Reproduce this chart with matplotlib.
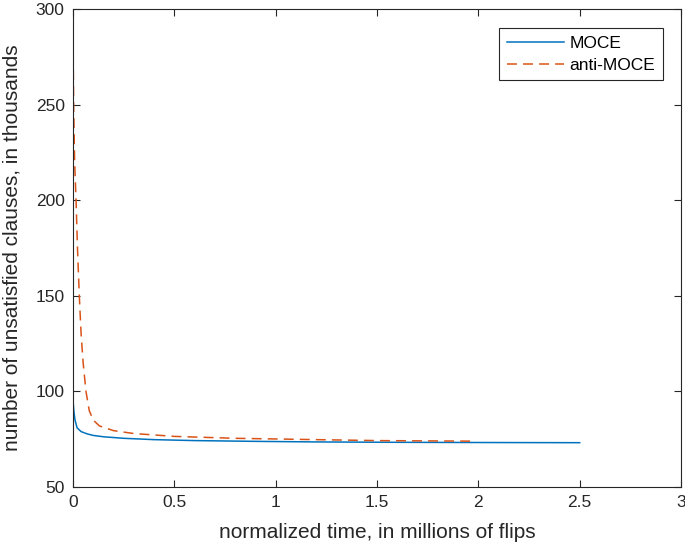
import numpy as np
import matplotlib
matplotlib.use("Agg")
import matplotlib.pyplot as plt

plt.rcParams['font.family'] = ['Liberation Sans', 'DejaVu Sans']

# MOCE curve (x in millions of flips, y in thousands of clauses)
moce_x = [0, 0.005, 0.01, 0.02, 0.04, 0.07, 0.1, 0.15, 0.25, 0.4, 0.6, 0.9, 1.2, 1.6, 2.0, 2.5]
moce_y = [95, 89, 85, 81, 79, 77.8, 77, 76.3, 75.5, 74.8, 74.3, 73.9, 73.6, 73.4, 73.3, 73.2]

# anti-MOCE curve
anti_x = [0, 0.003, 0.008, 0.015, 0.022, 0.031, 0.04, 0.05, 0.064, 0.08, 0.1, 0.13, 0.2, 0.3, 0.5, 0.8, 1.2, 1.5, 1.98]
anti_y = [285, 250, 220, 200, 175, 150, 130, 115, 100, 90, 85, 82, 79.5, 78, 76.5, 75.5, 74.8, 74.3, 74.0]

xticks = [0, 0.5, 1, 1.5, 2, 2.5, 3]
xticklabels = ['0', '0.5', '1', '1.5', '2', '2.5', '3']
yticks = [50, 100, 150, 200, 250, 300]

fig = plt.figure(figsize=(6.85, 5.46), dpi=100)
ax = fig.add_axes([0.1066, 0.108, 0.8876, 0.875])

ax.plot(moce_x, moce_y, color='#0072BD', lw=1.1, label='MOCE')
ax.plot(anti_x, anti_y, color='#D95319', lw=1.1, ls=(0, (6.5, 4)), label='anti-MOCE')

ax.set_xlim(0, 3)
ax.set_ylim(50, 300)
ax.set_xticks(xticks)
ax.set_xticklabels(xticklabels)
ax.set_yticks(yticks)
ax.tick_params(direction='in', top=True, right=True, labelsize=12.5, length=5, width=0.8,
               colors='#262626', pad=6)
for s in ax.spines.values():
    s.set_color('#262626')
    s.set_linewidth(0.8)

ax.set_xlabel('normalized time, in millions of flips', fontsize=15, color='#262626', labelpad=9)
ax.set_ylabel('number of unsatisfied clauses, in thousands', fontsize=15, color='#262626', labelpad=10)

leg = ax.legend(loc='upper right', bbox_to_anchor=(0.970, 0.960), borderaxespad=0,
                fontsize=12.5, fancybox=False, framealpha=1, edgecolor='#262626',
                handlelength=3.3, borderpad=0.45, labelspacing=0.35, handletextpad=0.3)
leg.get_frame().set_linewidth(0.8)

fig.savefig('out.png', dpi=100)
